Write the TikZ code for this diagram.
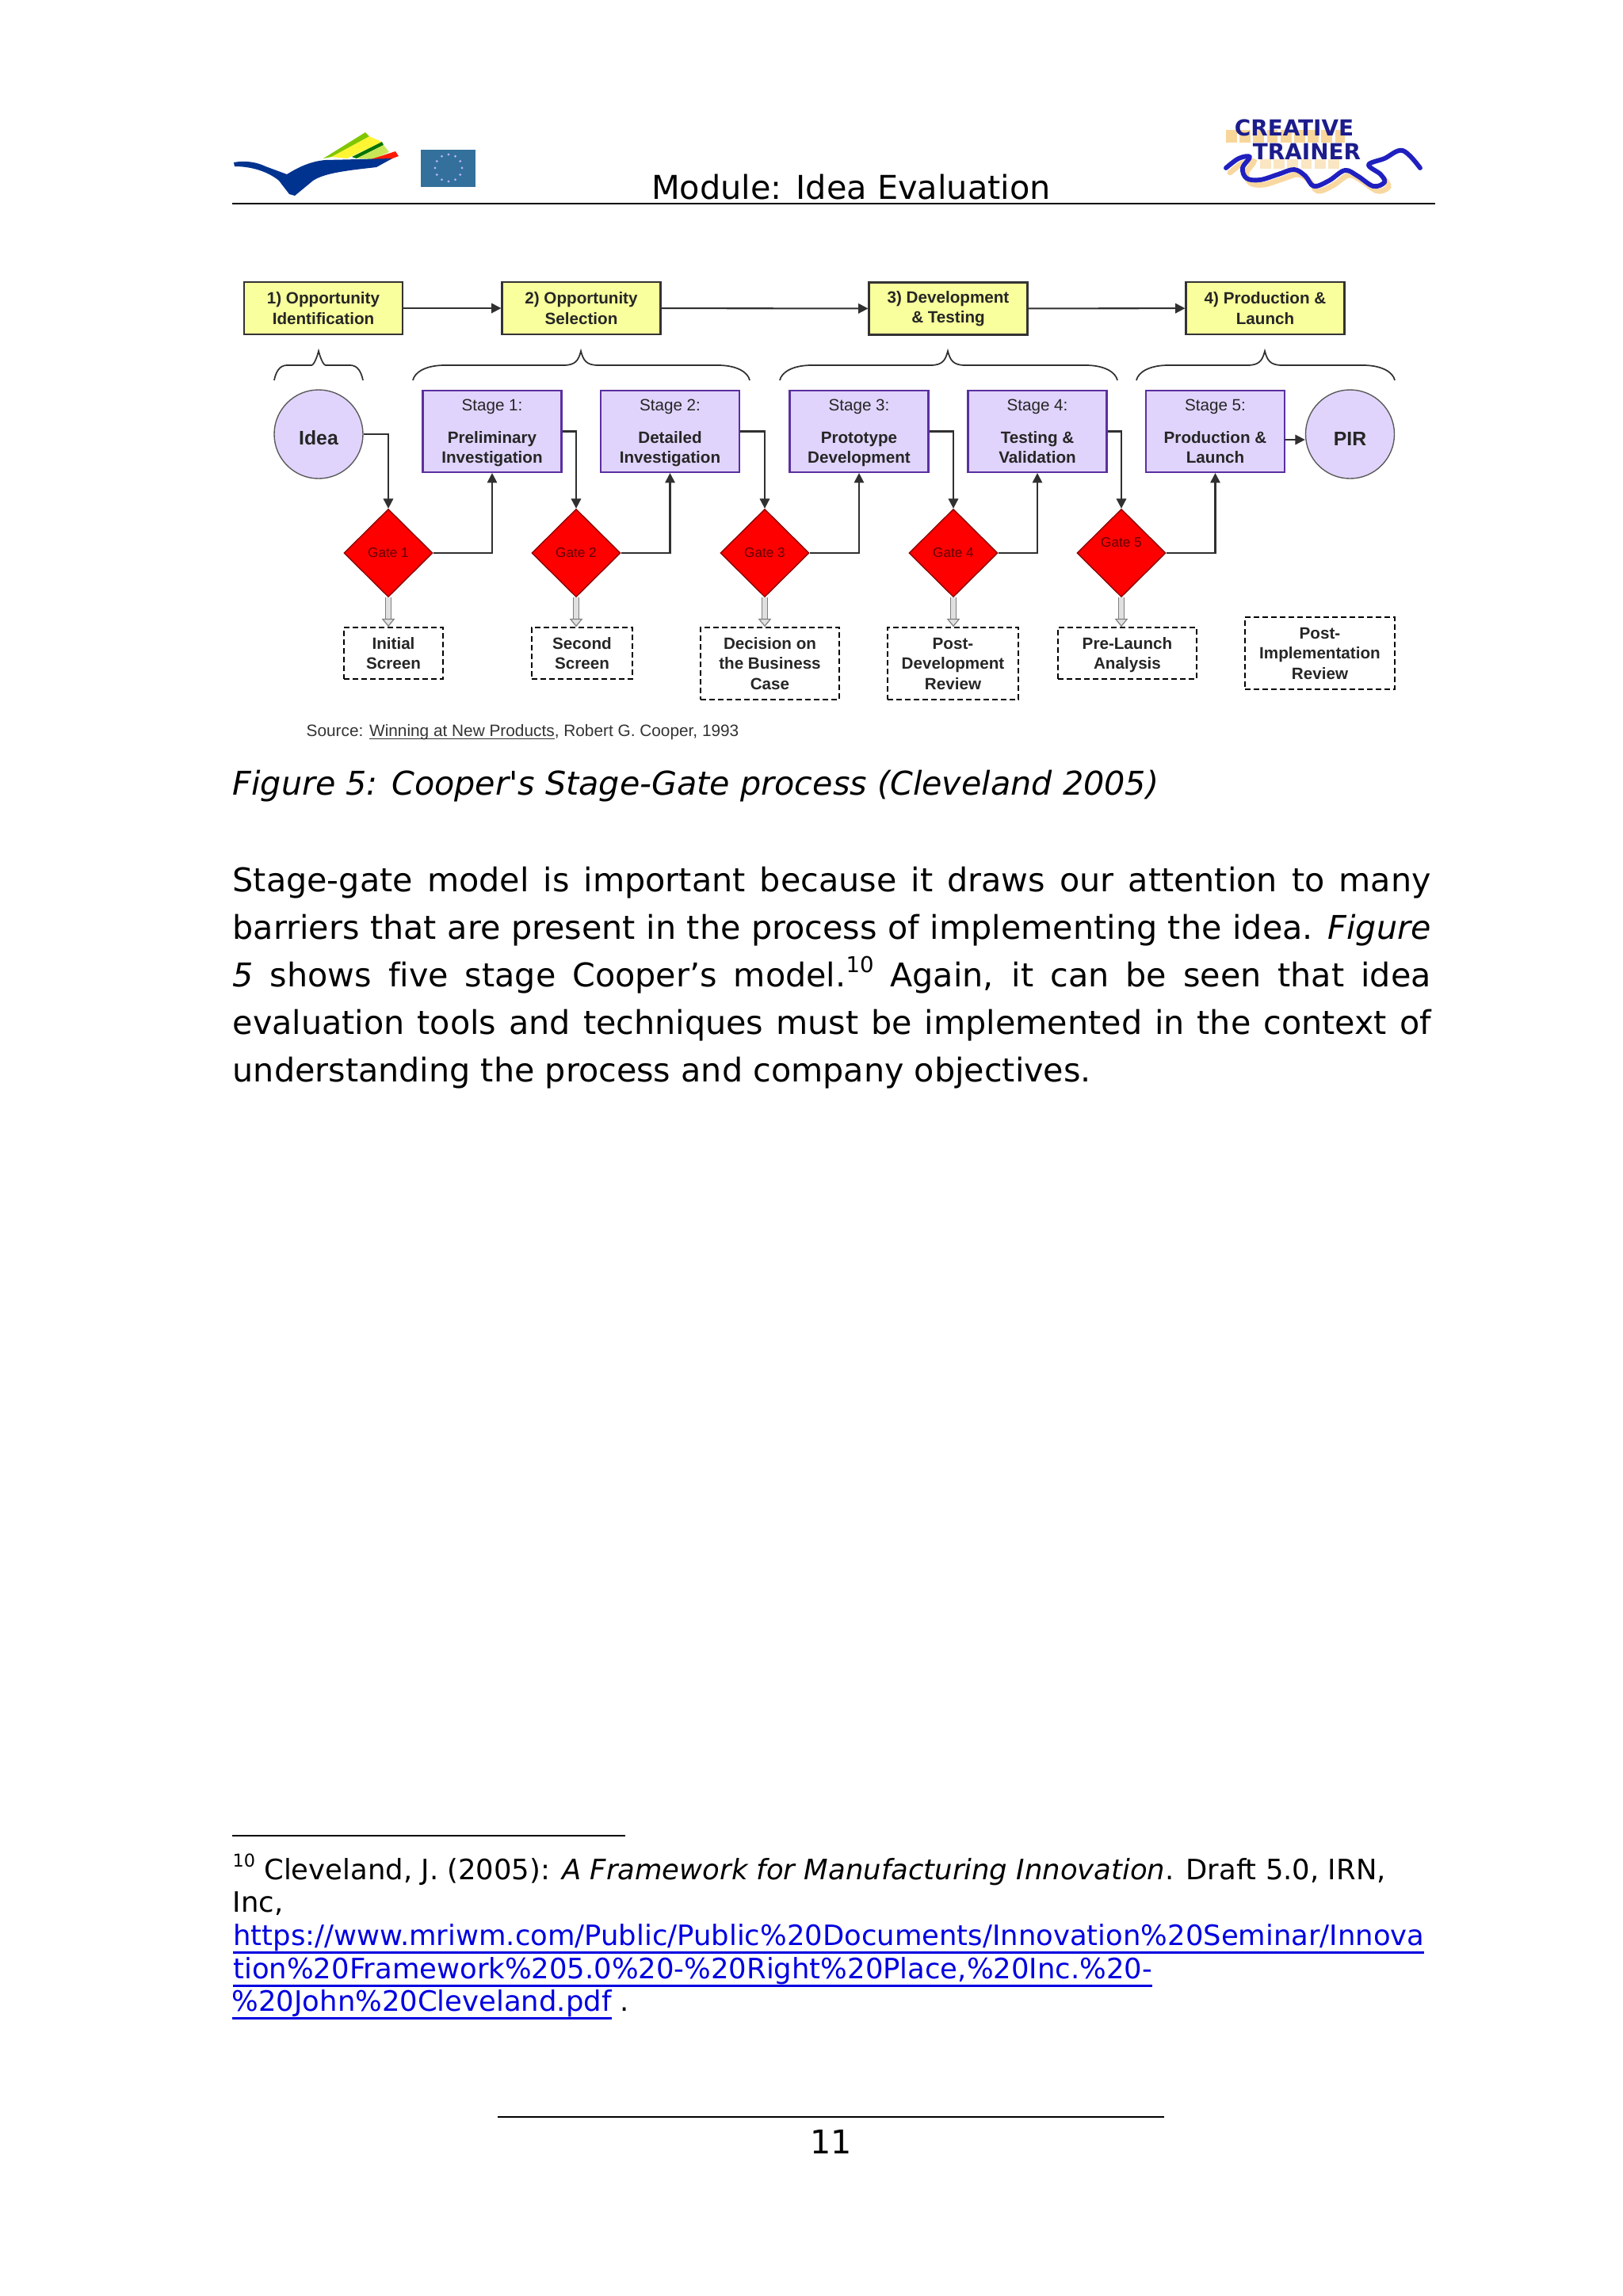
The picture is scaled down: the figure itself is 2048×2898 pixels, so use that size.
\documentclass[tikz,border=0pt]{standalone}
\usepackage{fontspec}
\setmainfont{DejaVu Sans}[Ligatures={TeXOff,NoCommon}]
\newfontfamily\figf{Liberation Sans}
\usetikzlibrary{arrows.meta,shapes.geometric}
\newlength\pxu
\setlength\pxu{0.2907bp}
\definecolor{ylw}{HTML}{F8FF9C}
\definecolor{lil}{HTML}{E0D4FC}
\definecolor{stageedge}{HTML}{5A30A0}
\definecolor{linegray}{HTML}{303030}
\definecolor{gatetxt}{HTML}{600000}
\definecolor{linkblue}{HTML}{0000E0}
\definecolor{wavb}{HTML}{2020C0}
\definecolor{ttl}{HTML}{1C1C8C}
\definecolor{shad}{HTML}{F5C878}
\newcommand\lnk[1]{\setbox0\hbox{#1}\rlap{\copy0}\rlap{\lower3.2pt\hbox{\rule{\wd0}{0.8pt}}}\hspace{\wd0}}
\newcommand\srcul[1]{\setbox0\hbox{#1}\rlap{\copy0}\rlap{\lower1.2pt\hbox{\rule{\wd0}{0.4pt}}}\hspace{\wd0}}
\newcommand\supn[1]{\raisebox{5bp}{\fontsize{8bp}{8bp}\selectfont #1}}
\newcommand\supf[1]{\raisebox{4.5bp}{\fontsize{6.5bp}{8bp}\selectfont #1}}
\newcommand\stagetxt[3]{\mdseries #1\\[15\pxu]\bfseries #2\\\smash{#3}}
\newcommand\bracepath[4]{% x1,x2,xc,corner
  \draw[bracest] (#1,480) .. controls (#1+2,470) and (#1+#4*.4,461) .. (#1+#4,461)
   -- (#3-#4*.55,461) .. controls (#3-7,461) and (#3-3,455) .. (#3,443)
   .. controls (#3+3,455) and (#3+7,461) .. (#3+#4*.55,461)
   -- (#2-#4,461) .. controls (#2-#4*.4,461) and (#2-2,470) .. (#2,480);}
\tikzset{
 fig/.style={font=\figf\fontsize{6bp}{25.5\pxu}\selectfont\bfseries,align=center,text=black!85,inner sep=0pt},
 phasebox/.style={fig,draw=black!80,line width=0.6bp,fill=ylw,minimum width=200*\pxu,minimum height=66*\pxu},
 stagebox/.style={fig,draw=stageedge,line width=0.6bp,fill=lil,minimum width=175*\pxu,minimum height=103*\pxu},
 roundn/.style={fig,draw=black!65,line width=0.4bp,fill=lil,ellipse,minimum width=112*\pxu,minimum height=112*\pxu,font=\figf\fontsize{7.2bp}{8bp}\selectfont\bfseries},
 gate/.style={diamond,draw=red!55!black,line width=0.4bp,fill=red,minimum width=112*\pxu,minimum height=111*\pxu,inner sep=0pt,text=gatetxt,font=\figf\fontsize{5bp}{6bp}\selectfont},
 review/.style={fig,draw=black,line width=0.45bp,dashed,dash pattern=on 7\pxu off 4\pxu,minimum height=65*\pxu},
 flow/.style={draw=linegray,line width=0.6bp,-{Triangle[length=3.6bp,width=3.6bp]}},
 hollow/.style={draw=gray,line width=0.35bp,double=black!12,double distance=1.5bp,-{Triangle[open,fill=black!12,length=3bp,width=4.8bp]}},
 bracest/.style={draw=linegray,line width=0.5bp},
 body/.style={anchor=base west,inner sep=0pt,font=\fontsize{12bp}{14bp}\selectfont},
 foot/.style={anchor=base west,inner sep=0pt,font=\fontsize{10.3bp}{12bp}\selectfont},
 logotxt/.style={inner sep=0pt,font=\fontsize{8.1bp}{9bp}\selectfont\bfseries},
}
\begin{document}
\begin{tikzpicture}[x=0.2907bp,y=-0.2907bp]
\useasboundingbox (0,0) rectangle (2048,2898);
% header
\draw[line width=0.75bp] (293,257) -- (1811,257);
\node[anchor=base,inner sep=0pt,font=\fontsize{12.05bp}{14bp}\selectfont] (module) at (1074,251) {Module: Idea Evaluation};
% left logo
\fill[yellow!80!white] (418,198) -- (466,172) -- (482,179) -- (438,200) -- cycle;
\fill[black!45!green!50!yellow] (408,200) -- (461,167) -- (466,172) -- (418,198) -- cycle;
\fill[green!45!black] (444,198) -- (482,179) -- (484,183) -- (450,200) -- cycle;
\fill[yellow!70!green!70] (450,200) -- (484,183) -- (491,192) -- (470,201) -- cycle;
\fill[red!80!orange] (468,201) -- (499,191) -- (503,197) -- (490,202) -- cycle;
\fill[blue!45!black!80!cyan] (295,205) .. controls (310,202) and (325,205) .. (335,210)
  -- (362,220) .. controls (375,212) and (390,204) .. (410,202) -- (495,200)
  -- (475,211) .. controls (440,215) and (410,218) .. (395,228)
  -- (372,247) -- (365,245) -- (352,228) .. controls (340,218) and (320,210) .. (296,210) -- cycle;
\fill[blue!30!black!70!cyan!80] (531,189) rectangle (600,236);
\foreach \a in {0,30,...,330}
  \fill[white!70!blue] (566,212) ++(\a:17) circle (1.6);
% right logo
\draw[shad,line width=4.4bp,opacity=.75,dash pattern=on 4bp off 1bp] (1547,172) -- (1697,172);
\draw[shad,line width=3.6bp,opacity=.45,dash pattern=on 4bp off 1bp] (1590,207) -- (1690,207);
\draw[shad,line width=2bp,line cap=round,opacity=.7] plot[smooth,tension=.6] coordinates {(1552,218)(1568,206)(1582,204)(1573,218)(1578,231)(1595,233)(1618,226)(1638,220)(1652,228)(1663,241)(1682,234)(1702,221)(1718,228)(1738,241)(1752,236)(1747,226)};
\draw[wavb,line width=1.7bp,line cap=round,line join=round] plot[smooth,tension=.6] coordinates {(1547,212)(1563,200)(1577,198)(1568,212)(1573,225)(1590,227)(1613,220)(1633,214)(1647,222)(1658,235)(1677,228)(1697,215)(1713,222)(1733,235)(1747,230)(1742,220)(1727,208)(1747,200)(1770,190)(1792,212)};
\node[logotxt,text=ttl] (ct) at (1633,161) {CREATIVE};
\node[logotxt,text=ttl] (tr) at (1649,191) {TRAINER};
% phases
\node[phasebox] (p1) at (408,389) {1) Opportunity\\Identification};
\node[phasebox] (p2) at (733.5,389) {2) Opportunity\\Selection};
\node[phasebox] (p3) at (1196.5,389.5) {3) Development\\\& Testing};
\node[phasebox] (p4) at (1596.5,389) {4) Production \&\\Launch};
\draw[flow] (p1) -- (p2);
\draw[flow] (p2) -- (p3);
\draw[flow] (p3) -- (p4);
% braces
\bracepath{346}{458}{402}{16}
\bracepath{521}{946}{733}{40}
\bracepath{984}{1410}{1196}{40}
\bracepath{1434}{1760}{1596}{40}
% stages
\node[roundn] (idea) at (402,548) {\rule{0pt}{28\pxu}Idea};
\node[stagebox] (s1) at (621,544.5) {\stagetxt{Stage 1:}{Preliminary}{Investigation}};
\node[stagebox] (s2) at (845.5,544.5) {\stagetxt{Stage 2:}{Detailed}{Investigation}};
\node[stagebox] (s3) at (1084,544.5) {\stagetxt{Stage 3:}{Prototype}{Development}};
\node[stagebox] (s4) at (1309,544.5) {\stagetxt{Stage 4:}{Testing \&}{Validation}};
\node[stagebox] (s5) at (1533.5,544.5) {\stagetxt{Stage 5:}{Production \&}{Launch}};
\node[roundn] (pir) at (1703.5,548) {\rule{0pt}{28\pxu}PIR};
% gates
\node[gate] (g1) at (490,698) {Gate 1};
\node[gate] (g2) at (727,698) {Gate 2};
\node[gate] (g3) at (965,698) {Gate 3};
\node[gate] (g4) at (1203,698) {Gate 4};
\node[gate] (g5) at (1415,698) {};
\node[inner sep=0pt,text=gatetxt,font=\figf\fontsize{5bp}{6bp}\selectfont] (g5t) at (1415,685) {Gate 5};
% review boxes
\node[review,minimum width=125*\pxu] (d1) at (496.5,824.5) {Initial\\Screen};
\node[review,minimum width=127*\pxu] (d2) at (734.5,824.5) {Second\\Screen};
\node[review,minimum width=175*\pxu,minimum height=91*\pxu] (d3) at (971.5,837.5) {Decision on\\the Business\\Case};
\node[review,minimum width=165*\pxu,minimum height=91*\pxu] (d4) at (1202.5,837.5) {Post-\\Development\\Review};
\node[review,minimum width=175*\pxu] (d5) at (1422.5,824.5) {Pre-Launch\\\smash{Analysis}};
\node[review,minimum width=189*\pxu,minimum height=91*\pxu] (d6) at (1665.5,824.5) {Post-\\Implementation\\Review};
% connectors
\draw[flow] (idea.east) -| (g1.north);
\draw[flow] (g1.east) -| (s1.south);
\draw[flow] (s1.east) -| (g2.north);
\draw[flow] (g2.east) -| (s2.south);
\draw[flow] (s2.east) -| (g3.north);
\draw[flow] (g3.east) -| (s3.south);
\draw[flow] (s3.east) -| (g4.north);
\draw[flow] (g4.east) -| (s4.south);
\draw[flow] (s4.east) -| (g5.north);
\draw[flow] (g5.east) -| (s5.south);
\coordinate (s5o) at (1621,555);
\draw[flow] (s5o) -- (pir.west |- s5o);
\draw[hollow] (g1.south) -- (g1.south |- d1.north);
\draw[hollow] (g2.south) -- (g2.south |- d2.north);
\draw[hollow] (g3.south) -- (g3.south |- d3.north);
\draw[hollow] (g4.south) -- (g4.south |- d4.north);
\draw[hollow] (g5.south) -- (g5.south |- d5.north);
\node[anchor=base west,inner sep=0pt,text=black!80,font=\figf\fontsize{6.05bp}{7bp}\selectfont] (src) at (386,929) {Source: \srcul{Winning at New Products}, Robert G. Cooper, 1993};
% caption and body
\node[body] (cap) at (293,1003) {\itshape Figure 5: Cooper's Stage-Gate process (Cleveland 2005)};
\node[body] (l1) at (293,1125) {\hbox to 1512\pxu{Stage-gate model is important because it draws our attention to many}};
\node[body] (l2) at (293,1185) {\hbox to 1512\pxu{barriers that are present in the process of implementing the idea. \itshape Figure}};
\node[body] (l3) at (293,1245) {\hbox to 1512\pxu{\itshape 5 \upshape shows five stage Cooper’s model.\supn{10} Again, it can be seen that idea}};
\node[body] (l4) at (293,1305) {\hbox to 1512\pxu{evaluation tools and techniques must be implemented in the context of}};
\node[body] (l5) at (293,1365) {understanding the process and company objectives.};
% footnote
\draw[line width=0.6bp] (293,2317) -- (789,2317);
\node[foot] (f1) at (293,2372) {\supf{10} Cleveland, J. (2005): \itshape A Framework for Manufacturing Innovation\upshape. Draft 5.0, IRN,};
\node[foot] (f2) at (293,2413) {Inc,};
\node[foot,text=linkblue] (f3) at (292,2455) {\lnk{https://www.mriwm.com/Public/Public\%20Documents/Innovation\%20Seminar/Innova}};
\node[foot,text=linkblue] (f4) at (292,2497) {\lnk{tion\%20Framework\%205.0\%20-\%20Right\%20Place,\%20Inc.\%20-}};
\node[foot] (f5) at (292,2538) {\textcolor{linkblue}{\lnk{\%20John\%20Cleveland.pdf}} .};
% page number
\draw[line width=0.75bp] (628,2672) -- (1469,2672);
\node[anchor=base,inner sep=0pt,font=\fontsize{12bp}{14bp}\selectfont] (pg) at (1049,2718) {11};
\end{tikzpicture}
\end{document}
